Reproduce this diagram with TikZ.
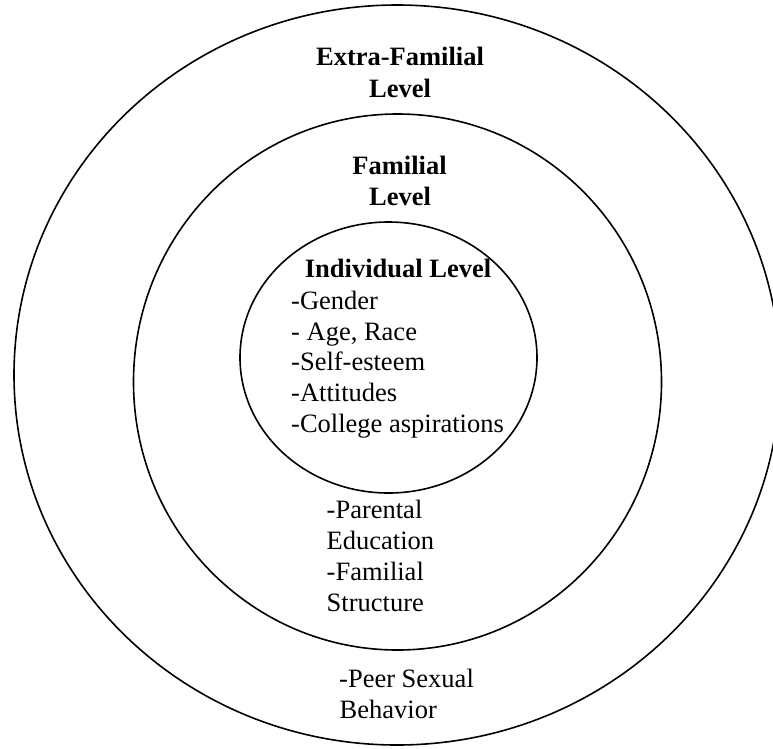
\documentclass[tikz,border=0pt]{standalone}
\usepackage{fontspec}
\setmainfont{Liberation Serif}
\begin{document}
\begin{tikzpicture}[x=1pt,y=-1pt,
  ring/.style={draw=black,line width=1.6pt},
  lbl/.style={inner sep=0pt,font=\fontsize{26.5}{31}\selectfont},
  head/.style={lbl,font=\fontsize{26.5}{31}\selectfont\bfseries,anchor=base},
  item/.style={lbl,anchor=base west}]
\useasboundingbox (0,0) rectangle (773,748);
\clip (0,0) rectangle (773,748);
% rings
\draw[ring] (397,375) ellipse [x radius=383, y radius=370];
\draw[ring] (397.5,382) ellipse [x radius=264, y radius=268];
\draw[ring] (388.5,357.5) ellipse [x radius=148.5, y radius=135.5];
% headings
\node[head] (ef1) at (400,65.7) {Extra-Familial};
\node[head] (ef2) at (400,97.3) {Level};
\node[head] (f1) at (399.5,174) {Familial};
\node[head] (f2) at (400,205) {Level};
\node[head] (ind) at (398,277.3) {Individual Level};
% individual items
\node[item] (i1) at (291,309.3) {-Gender};
\node[item] (i2) at (291,340) {- Age, Race};
\node[item] (i3) at (291,370.6) {-Self-esteem};
\node[item] (i4) at (291,401.3) {-Attitudes};
\node[item] (i5) at (291,432) {-College aspirations};
% familial items
\node[item] (p1) at (326.5,518.3) {-Parental};
\node[item] (p2) at (326.5,549.5) {Education};
\node[item] (p3) at (326.5,580.7) {-Familial};
\node[item] (p4) at (326.5,611.7) {Structure};
% extra-familial items
\node[item] (e1) at (339,687.3) {-Peer Sexual};
\node[item] (e2) at (339.5,718.3) {Behavior};
\end{tikzpicture}
\end{document}
